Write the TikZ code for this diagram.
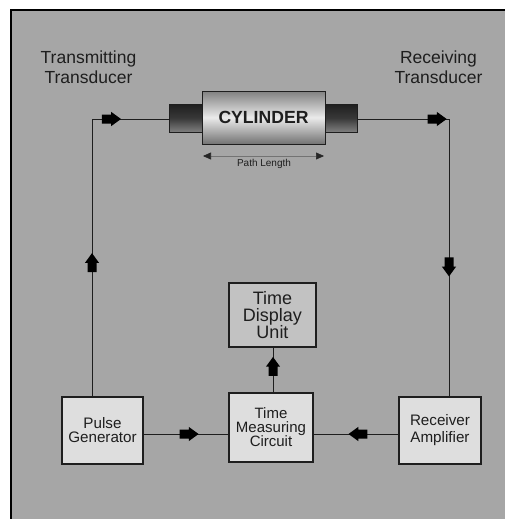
\documentclass[tikz,border=0pt]{standalone}
\usepackage{fontspec}
\setmainfont{Liberation Sans}
\usetikzlibrary{shapes.arrows,arrows.meta}
\definecolor{bggray}{HTML}{A6A6A6}
\definecolor{boxfill}{HTML}{DEDEDE}
\definecolor{tdufill}{HTML}{C2C2C2}
\definecolor{inkc}{HTML}{1E1E1E}
\tikzset{
  blk/.style={draw=inkc, line width=1.2pt, fill=boxfill, inner sep=0pt, align=center, text=inkc},
  wire/.style={draw=inkc, line width=1pt},
  barrow/.style={single arrow, fill=black, draw=none, inner sep=0pt, outer sep=0pt,
    text height=4pt, text depth=4pt, text width=0pt, minimum height=19pt,
    single arrow head extend=2.6pt, single arrow tip angle=72,
    sloped, allow upside down},
  lbl/.style={align=center, text=inkc, font=\fontsize{17.5}{20}\selectfont},
}
\begin{document}
\begin{tikzpicture}[x=1pt,y=-1pt]
\useasboundingbox (0,0) rectangle (505,519);
\fill[bggray] (11,10) rectangle (505,519);
\draw[black, line width=2.5pt] (11,519) -- (11,10) -- (505,10);

% labels
\node[lbl] (tx) at (88.5,67) {Transmitting\\Transducer};
\node[lbl] (rx) at (438.5,67) {Receiving\\Transducer};

% cylinder
\node[draw=inkc, line width=0.8pt, minimum width=33pt, minimum height=28pt, inner sep=0pt,
  top color=black!88, bottom color=black!50, middle color=black!78] (capL) at (185.5,118) {};
\node[draw=inkc, line width=0.8pt, minimum width=32pt, minimum height=28pt, inner sep=0pt,
  top color=black!88, bottom color=black!50, middle color=black!78] (capR) at (341,118) {};
\node[draw=inkc, line width=1pt, minimum width=123pt, minimum height=53pt, inner sep=0pt,
  top color=black!50, bottom color=black!55, middle color=black!8, text=inkc,
  font=\bfseries\fontsize{17.6}{20}\selectfont] (cyl) at (263.5,117.5) {CYLINDER};

% path length
\coordinate (pl1) at (203,156);
\coordinate (pl2) at (324,156);
\draw[black!55, line width=0.6pt, {Triangle[length=8pt,width=7pt,color=black!85,fill=black!85]}-{Triangle[length=8pt,width=7pt,color=black!85,fill=black!85]}] (pl1) -- (pl2);
\node[text=inkc, font=\fontsize{10}{12}\selectfont] (pl) at (264,163.5) {Path Length};

% boxes
\node[blk, minimum width=81pt, minimum height=67pt, font=\fontsize{15.2}{14}\selectfont] (PG) at (102.5,430.5) {Pulse\\Generator};
\node[blk, minimum width=84pt, minimum height=69pt, font=\fontsize{15}{14}\selectfont] (TMC) at (271,427.5) {Time\\Measuring\\Circuit};
\node[blk, minimum width=82pt, minimum height=67pt, font=\fontsize{15.2}{17}\selectfont] (RA) at (440,430.5) {Receiver\\Amplifier};
\node[blk, fill=tdufill, minimum width=87pt, minimum height=64pt, font=\fontsize{18}{17}\selectfont] (TDU) at (272.5,315) {Time\\Display\\Unit};

% connectors
\coordinate (tl) at (92,119);
\coordinate (tr) at (449,119);
\coordinate (hl) at (0,434);
\coordinate (vl) at (273,0);
\draw[wire] (PG.north -| tl) -- node[barrow, pos=0.471]{} (tl) -- node[barrow, pos=0.214]{} (capL.west |- tl);
\draw[wire] (capR.east |- tr) -- node[barrow, pos=0.837]{} (tr) -- node[barrow, pos=0.522]{} (RA.north -| tr);
\draw[wire] (PG.east |- hl) -- node[barrow, pos=0.5]{} (TMC.west |- hl);
\draw[wire] (RA.west |- hl) -- node[barrow, pos=0.44]{} (TMC.east |- hl);
\draw[wire] (TMC.north -| vl) -- node[barrow, pos=0.51]{} (TDU.south -| vl);
\end{tikzpicture}
\end{document}
